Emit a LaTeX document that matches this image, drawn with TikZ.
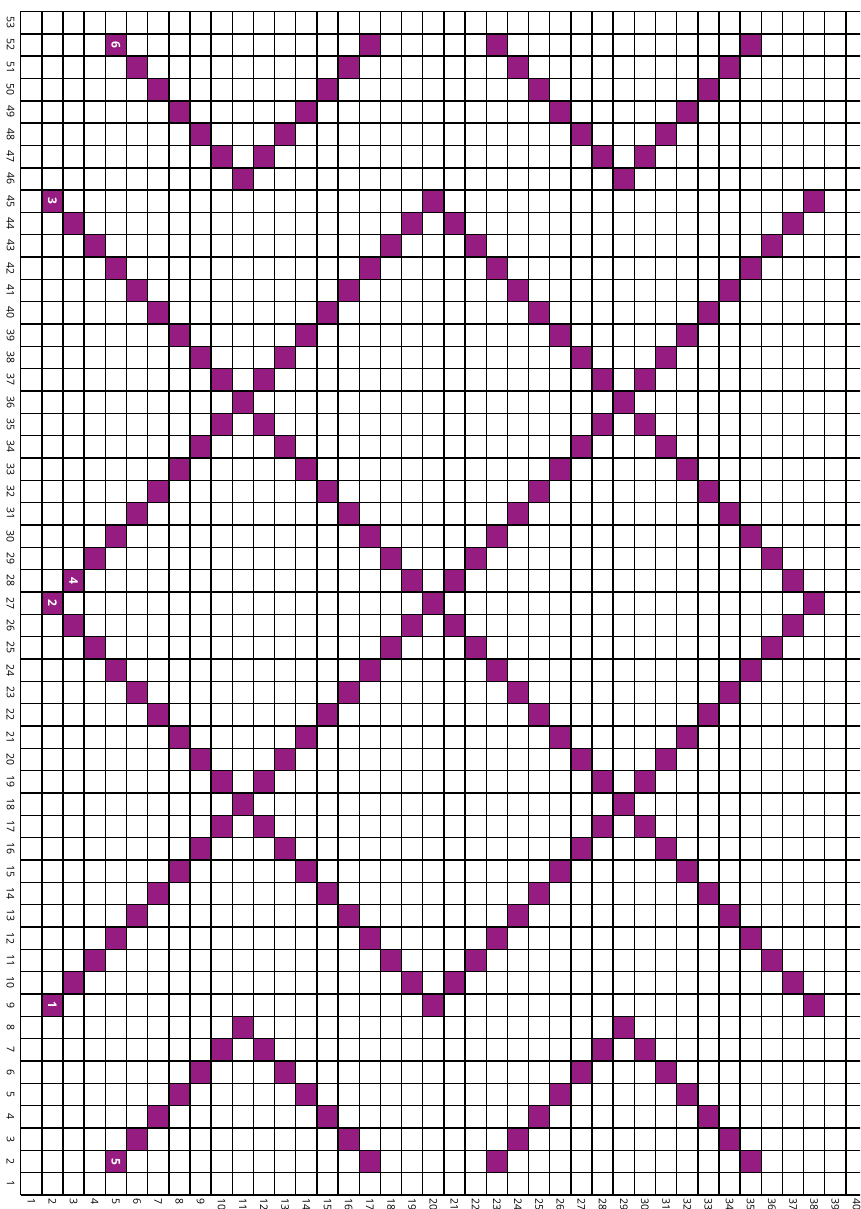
\documentclass[tikz,border=0pt]{standalone}
\usepackage{fontspec}
\setmainfont{Open Sans}
\definecolor{cellpurple}{RGB}{150,28,130}
\begin{document}
\begin{tikzpicture}[x=1pt,y=1pt,
  lab/.style={font=\fontsize{10.5}{10.5}\selectfont, rotate=-90, inner sep=0pt},
  cellnum/.style={font=\fontsize{12}{12}\selectfont\bfseries, text=white, rotate=-90, inner sep=0pt},
  cellfill/.style={fill=cellpurple},
  gridline/.style={line width=1.4pt, draw=black}]
\useasboundingbox (0,0) rectangle (860,1209);
\clip (0,0) rectangle (860,1209);
\fill[white] (0,0) rectangle (860,1209);
\def\gx{20.7}\def\cw{21.16}\def\gy{14}\def\ch{22.33}
\newcommand\pcell[2]{\fill[cellfill] ({\gx+(#1-1)*\cw},{\gy+(#2-1)*\ch}) rectangle ++(\cw,\ch);}
% diagonal lines
\foreach \i in {0,...,36} {\pcell{2+\i}{9+\i}}
\foreach \i in {0,...,36} {\pcell{2+\i}{45-\i}}
\foreach \i in {0,...,18} {\pcell{2+\i}{27-\i}}
\foreach \i in {0,...,18} {\pcell{20+\i}{9+\i}}
\foreach \i in {0,...,18} {\pcell{38-\i}{27+\i}}
\foreach \i in {0,...,17} {\pcell{3+\i}{28+\i}}
% bottom and top chevrons
\foreach \i in {0,...,6} {\pcell{5+\i}{2+\i}\pcell{17-\i}{2+\i}\pcell{23+\i}{2+\i}\pcell{35-\i}{2+\i}}
\foreach \i in {0,...,6} {\pcell{5+\i}{52-\i}\pcell{17-\i}{52-\i}\pcell{23+\i}{52-\i}\pcell{35-\i}{52-\i}}
% grid
\foreach \c in {0,...,40} {\draw[gridline] ({\gx+\c*\cw},\gy) -- ({\gx+\c*\cw},{\gy+53*\ch});}
\foreach \r in {0,...,53} {\draw[gridline] (\gx,{\gy+\r*\ch}) -- ({\gx+40*\cw},{\gy+\r*\ch});}
% row labels
\foreach \r in {1,...,53} {\node[lab] (row\r) at (10.5,{\gy+(\r-0.5)*\ch}) {\r};}
% column labels
\foreach \c in {1,...,40} {\node[lab, anchor=west] (col\c) at ({\gx+(\c-0.5)*\cw},11) {\c};}
% cell numbers
\node[cellnum] (n1) at ({\gx+1.5*\cw},{\gy+8.5*\ch}) {1};
\node[cellnum] (n2) at ({\gx+1.5*\cw},{\gy+26.5*\ch}) {2};
\node[cellnum] (n3) at ({\gx+1.5*\cw},{\gy+44.5*\ch}) {3};
\node[cellnum] (n4) at ({\gx+2.5*\cw},{\gy+27.5*\ch}) {4};
\node[cellnum] (n5) at ({\gx+4.5*\cw},{\gy+1.5*\ch}) {5};
\node[cellnum] (n6) at ({\gx+4.5*\cw},{\gy+51.5*\ch}) {6};
\end{tikzpicture}
\end{document}
